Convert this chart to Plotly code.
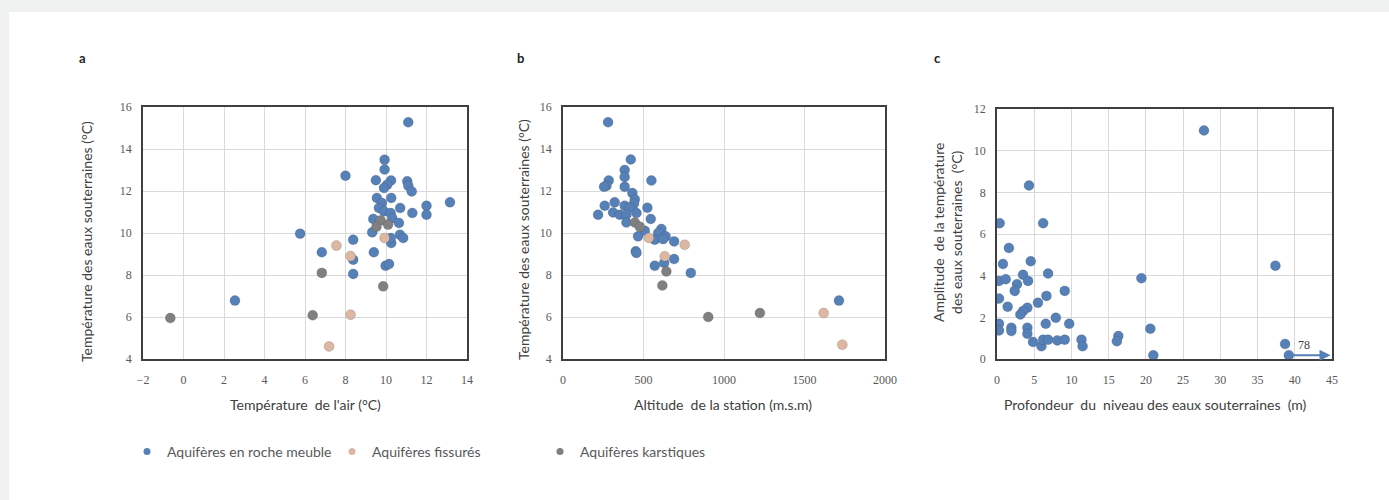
import plotly.graph_objects as go

W, H = 1389, 500

# ---------------- Data ----------------
# Panel a: air temperature (°C) vs groundwater temperature (°C)
a_meuble_x = [11.1, 9.93, 9.93, 8.0, 9.5, 10.25, 10.06, 9.9, 11.05, 11.1, 11.27, 9.55, 9.8, 10.26,
              10.7, 11.3, 12.0, 12.0, 13.16, 9.65, 9.9, 10.23, 9.37, 10.31, 10.64, 9.32, 10.69,
              10.85, 10.26, 10.23, 5.76, 8.38, 6.83, 8.38, 9.4, 8.38, 9.98, 10.15, 2.54]
a_meuble_y = [15.27, 13.49, 13.02, 12.73, 12.51, 12.5, 12.3, 12.14, 12.46, 12.25, 11.98, 11.67,
              11.43, 11.67, 11.19, 10.95, 11.3, 10.87, 11.46, 11.19, 11.03, 10.95, 10.67, 10.71,
              10.48, 10.03, 9.92, 9.76, 9.52, 9.76, 9.97, 9.68, 9.08, 8.73, 9.08, 8.05, 8.44,
              8.52, 6.78]
a_fiss_x = [7.55, 8.25, 9.93, 8.25, 7.19]
a_fiss_y = [9.4, 8.9, 9.76, 6.11, 4.6]
a_karst_x = [-0.65, 6.38, 6.83, 9.86, 9.73, 10.1, 9.53]
a_karst_y = [5.95, 6.08, 8.1, 7.46, 10.6, 10.4, 10.3]

# Panel b: station altitude (m a.s.l.) vs groundwater temperature (°C)
b_meuble_x = [280, 421, 383, 383, 549, 284, 270, 255, 383, 431, 446, 441, 259, 321, 383, 415,
              524, 218, 311, 353, 394, 456, 545, 394, 466, 508, 611, 591, 637, 570, 622, 690,
              452, 456, 690, 570, 628, 794, 1714]
b_meuble_y = [15.27, 13.5, 13.0, 12.67, 12.5, 12.5, 12.25, 12.2, 12.2, 11.9, 11.6, 11.4, 11.3,
              11.46, 11.3, 11.2, 11.2, 10.87, 10.98, 10.87, 10.87, 10.95, 10.67, 10.5, 9.84,
              10.11, 10.19, 10.0, 9.84, 9.68, 9.71, 9.6, 9.13, 9.05, 8.76, 8.44, 8.57, 8.1, 6.78]
b_fiss_x = [533, 756, 632, 1619, 1735]
b_fiss_y = [9.76, 9.44, 8.89, 6.19, 4.68]
b_karst_x = [446, 477, 642, 617, 902, 1223]
b_karst_y = [10.5, 10.3, 8.17, 7.5, 6.0, 6.19]

# Panel c: depth of groundwater level (m) vs groundwater temperature amplitude (°C)
c_depth = [27.8, 4.3, 0.36, 6.2, 1.6, 0.8, 4.53, 37.4, 6.86, 3.5, 4.17, 0.27, 1.17, 19.4, 2.69,
           2.38, 9.1, 6.64, 0.27, 5.5, 1.43, 4.08, 3.5, 3.14, 7.9, 9.7, 6.55, 0.27, 0.27, 1.93,
           1.93, 4.08, 4.08, 20.6, 16.3, 16.1, 4.84, 5.97, 6.2, 6.86, 8.1, 9.1, 11.35, 11.5,
           21.0, 38.7, 39.2]
c_amp = [10.97, 8.33, 6.52, 6.52, 5.33, 4.56, 4.69, 4.48, 4.1, 4.04, 3.75, 3.75, 3.83, 3.88,
         3.59, 3.27, 3.27, 3.03, 2.9, 2.7, 2.51, 2.46, 2.3, 2.14, 1.98, 1.69, 1.69, 1.69, 1.37,
         1.5, 1.34, 1.5, 1.21, 1.45, 1.1, 0.85, 0.82, 0.61, 0.93, 0.93, 0.89, 0.93, 0.93, 0.61,
         0.18, 0.72, 0.18]
c_outlier_depth = 78  # value beyond axis, shown with arrow
c_arrow_from, c_arrow_to, c_arrow_y = 39.2, 44.8, 0.18

series_names = ["Aquifères en roche meuble", "Aquifères fissurés", "Aquifères karstiques"]
series_colors = ["#5580b8", "#dcb8a3", "#808080"]

# ---------------- Figure ----------------
fig = go.Figure()

def add(x, y, k, xa, ya):
    fig.add_trace(go.Scatter(
        x=x, y=y, mode="markers", name=series_names[k], legendgroup=series_names[k],
        showlegend=False, xaxis=xa, yaxis=ya,
        marker=dict(size=10, color=series_colors[k], line=dict(width=0.6, color="rgba(60,60,60,0.3)")),
    ))

add(a_meuble_x, a_meuble_y, 0, "x", "y")
add(a_fiss_x, a_fiss_y, 1, "x", "y")
add(a_karst_x, a_karst_y, 2, "x", "y")
add(b_meuble_x, b_meuble_y, 0, "x2", "y2")
add(b_fiss_x, b_fiss_y, 1, "x2", "y2")
add(b_karst_x, b_karst_y, 2, "x2", "y2")
add(c_depth, c_amp, 0, "x3", "y3")

legend_ids = ["legend", "legend2", "legend3"]
# legend entries (smaller symbols, as in the reference), one legend per entry
for k in range(3):
    fig.add_trace(go.Scatter(x=[None], y=[None], mode="markers", name=series_names[k],
                             legendgroup=series_names[k], showlegend=True, legend=legend_ids[k],
                             marker=dict(size=7, color=series_colors[k])))

def px(x):
    return x / W

def py(y):
    return 1 - y / H

tickfont = dict(family="Liberation Serif, serif", size=12, color="#595959")
gridc = "#d9d9d9"
linec = "#3f3f3f"

def xaxis(dom, rng, dtick, anchor):
    return dict(domain=dom, range=rng, dtick=dtick, tick0=rng[0], anchor=anchor,
                showgrid=True, gridcolor=gridc, gridwidth=1, zeroline=False,
                showline=True, linecolor=linec, linewidth=1.5, mirror=True,
                ticks="outside", ticklen=9, tickcolor="rgba(0,0,0,0)",
                tickfont=tickfont, automargin=False, fixedrange=True)

def yaxis(dom, rng, dtick, anchor):
    return dict(domain=dom, range=rng, dtick=dtick, tick0=rng[0], anchor=anchor,
                showgrid=True, gridcolor=gridc, gridwidth=1, zeroline=False,
                showline=True, linecolor=linec, linewidth=1.5, mirror=True,
                ticks="outside", ticklen=7, tickcolor="rgba(0,0,0,0)",
                tickfont=tickfont, automargin=False, fixedrange=True)

ya_dom = [py(359), py(107)]
yc_dom = [py(359), py(109)]

def legend_at(xpix):
    return dict(orientation="h", x=px(xpix), y=py(452), xanchor="left", yanchor="middle",
                font=dict(family="Lato, sans-serif", size=14, color="#595959"),
                bgcolor="rgba(0,0,0,0)", itemwidth=30)

fig.update_layout(
    width=W, height=H,
    margin=dict(l=0, r=0, t=0, b=0),
    paper_bgcolor="#eff1f1",
    plot_bgcolor="white",
    xaxis=xaxis([px(143), px(467)], [-2, 14], 2, "y"),
    yaxis=yaxis(ya_dom, [4, 16], 2, "x"),
    xaxis2=xaxis([px(563), px(885)], [0, 2000], 500, "y2"),
    yaxis2=yaxis(ya_dom, [4, 16], 2, "x2"),
    xaxis3=xaxis([px(997), px(1332)], [0, 45], 5, "y3"),
    yaxis3=yaxis(yc_dom, [0, 12], 2, "x3"),
    showlegend=True,
    legend=legend_at(127),
    legend2=legend_at(332),
    legend3=legend_at(540),
)

# white card
fig.add_shape(type="rect", xref="paper", yref="paper", x0=px(9), x1=1.0, y0=0, y1=py(12),
              fillcolor="white", line=dict(width=0), layer="below")

title_font = dict(family="Lato, sans-serif", size=14, color="#404040")
for t, x in (("a", 82), ("b", 520), ("c", 937)):
    fig.add_annotation(xref="paper", yref="paper", showarrow=False, text=f"<b>{t}</b>",
                       x=px(x), y=py(58), xanchor="center", yanchor="middle",
                       font=dict(family="Lato, sans-serif", size=13, color="#222"))

axis_titles = [
    ("Température  de l'air (°C)", 305, 404, 0),
    ("Altitude  de la station (m.s.m)", 723, 404, 0),
    ("Profondeur  du  niveau des eaux souterraines  (m)", 1155, 404, 0),
    ("Température des eaux souterraines (°C)", 86, 242, -90),
    ("Température des eaux souterraines (°C)", 523, 240, -90),
    ("Amplitude  de la température<br>des eaux souterraines  (°C)", 948, 233, -90),
]
for t, x, y, ang in axis_titles:
    fig.add_annotation(xref="paper", yref="paper", x=px(x), y=py(y), text=t, showarrow=False,
                       textangle=ang, font=title_font, xanchor="center", yanchor="middle")

# arrow for off-scale value in panel c
fig.add_annotation(xref="x3", yref="y3", axref="x3", ayref="y3",
                   x=c_arrow_to, y=c_arrow_y, ax=c_arrow_from, ay=c_arrow_y,
                   showarrow=True, arrowhead=2, arrowsize=1, arrowwidth=2.2,
                   arrowcolor=series_colors[0], text="")
fig.add_annotation(xref="x3", yref="y3", x=41.2, y=0.65, text=str(c_outlier_depth),
                   showarrow=False, font=dict(family="Liberation Serif, serif", size=12, color="#404040"))

fig.write_html("out.html", config={"displayModeBar": False},
               post_script="document.body.style.margin='0px';")
